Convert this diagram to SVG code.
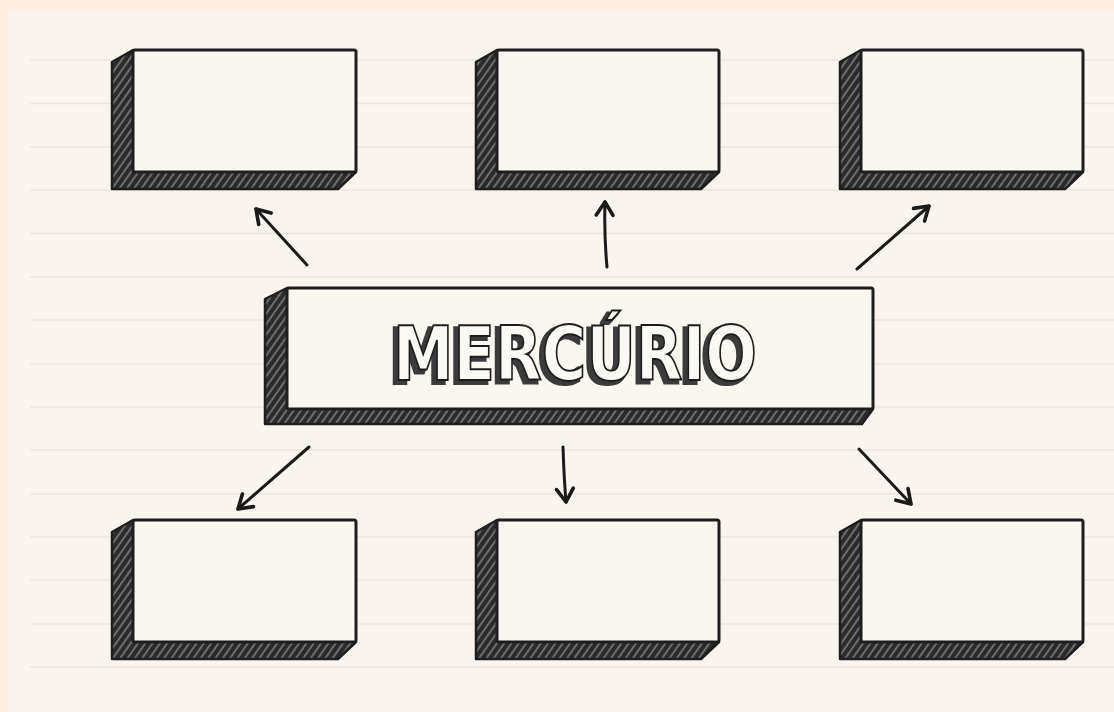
<svg xmlns="http://www.w3.org/2000/svg" width="1114" height="712" viewBox="0 0 1114 712">
  <style>
    .front { fill: #faf7f0; stroke: #1e1e1e; stroke-width: 3; stroke-linejoin: round; }
    .side { fill: url(#hatch); stroke: #1e1e1e; stroke-width: 2.5; stroke-linejoin: round; }
    .rule { stroke: #ebe6dc; stroke-width: 1.5; }
    .conn { fill: none; stroke: #1a1a1a; stroke-width: 3; stroke-linecap: round; marker-end: url(#head); }
    .title { font-family: "DejaVu Sans", "Liberation Sans", sans-serif; font-weight: bold; font-size: 75px; }
  </style>
  <defs>
    <pattern id="hatch" patternUnits="userSpaceOnUse" width="6" height="6" patternTransform="rotate(-55)">
      <rect width="6" height="6" fill="#2b2b2b"/>
      <line x1="0" y1="2" x2="6" y2="2" stroke="#9a9a9a" stroke-width="1.2"/>
    </pattern>
    <filter id="shadow" x="-5%" y="-20%" width="110%" height="150%">
      <feMorphology in="SourceAlpha" operator="dilate" radius="1" result="a"/>
      <feOffset in="a" dx="-4" dy="3" result="off"/>
      <feFlood flood-color="#3a3a3a"/>
      <feComposite in2="off" operator="in" result="sh"/>
      <feMerge>
        <feMergeNode in="sh"/>
        <feMergeNode in="SourceGraphic"/>
      </feMerge>
    </filter>
    <marker id="head" markerUnits="userSpaceOnUse" markerWidth="24" markerHeight="24" viewBox="-14 -10 18 20" refX="0" refY="0" orient="auto">
      <path d="M-11,-7 L0,0 L-11,7" fill="none" stroke="#1a1a1a" stroke-width="3" stroke-linecap="round" stroke-linejoin="round"/>
    </marker>
  </defs>

  <!-- background -->
  <rect x="0" y="0" width="1114" height="712" fill="#fdeee0"/>
  <rect x="8" y="11" width="1106" height="701" fill="#f9f5ee"/>
  <g id="rules">
    <line class="rule" x1="30" y1="60" x2="1114" y2="60"/>
    <line class="rule" x1="30" y1="103.5" x2="1114" y2="103.5"/>
    <line class="rule" x1="30" y1="147" x2="1114" y2="147"/>
    <line class="rule" x1="30" y1="190" x2="1114" y2="190"/>
    <line class="rule" x1="30" y1="233.5" x2="1114" y2="233.5"/>
    <line class="rule" x1="30" y1="277" x2="1114" y2="277"/>
    <line class="rule" x1="30" y1="320" x2="1114" y2="320"/>
    <line class="rule" x1="30" y1="364" x2="1114" y2="364"/>
    <line class="rule" x1="30" y1="407" x2="1114" y2="407"/>
    <line class="rule" x1="30" y1="450" x2="1114" y2="450"/>
    <line class="rule" x1="30" y1="494" x2="1114" y2="494"/>
    <line class="rule" x1="30" y1="537" x2="1114" y2="537"/>
    <line class="rule" x1="30" y1="580" x2="1114" y2="580"/>
    <line class="rule" x1="30" y1="624" x2="1114" y2="624"/>
    <line class="rule" x1="30" y1="667" x2="1114" y2="667"/>
  </g>

  <!-- connectors -->
  <g id="connectors">
    <path class="conn" d="M307,265 L256,209"/>
    <path class="conn" d="M607,267 Q604,235 605,202"/>
    <path class="conn" d="M857,269 L929,206"/>
    <path class="conn" d="M309,447 L238,509"/>
    <path class="conn" d="M563,447 Q564,478 566,502"/>
    <path class="conn" d="M859,449 L911,504"/>
  </g>

  <!-- center node -->
  <g id="center">
    <polygon class="side" points="287,288 265,299 265,424 862,424 873,409"/>
    <rect class="front" x="287" y="288" width="586" height="121" rx="2"/>
    <text class="title" x="575" y="380" text-anchor="middle" textLength="364" lengthAdjust="spacingAndGlyphs" fill="#fbf9f4" stroke="#1e1e1e" stroke-width="2" filter="url(#shadow)">MERCÚRIO</text>
  </g>

  <!-- top row -->
  <g id="box-top-left">
    <polygon class="side" points="133,50 112,62 112,189 338,189 356,172"/>
    <rect class="front" x="133" y="50" width="223" height="122" rx="2"/>
  </g>
  <g id="box-top-center">
    <polygon class="side" points="497,50 476,62 476,189 701,189 719,172"/>
    <rect class="front" x="497" y="50" width="222" height="122" rx="2"/>
  </g>
  <g id="box-top-right">
    <polygon class="side" points="861,50 840,62 840,189 1065,189 1083,172"/>
    <rect class="front" x="861" y="50" width="222" height="122" rx="2"/>
  </g>

  <!-- bottom row -->
  <g id="box-bottom-left">
    <polygon class="side" points="133,520 112,532 112,659 338,659 356,642"/>
    <rect class="front" x="133" y="520" width="223" height="122" rx="2"/>
  </g>
  <g id="box-bottom-center">
    <polygon class="side" points="497,520 476,532 476,659 701,659 719,642"/>
    <rect class="front" x="497" y="520" width="222" height="122" rx="2"/>
  </g>
  <g id="box-bottom-right">
    <polygon class="side" points="861,520 840,532 840,659 1065,659 1083,642"/>
    <rect class="front" x="861" y="520" width="222" height="122" rx="2"/>
  </g>
</svg>
